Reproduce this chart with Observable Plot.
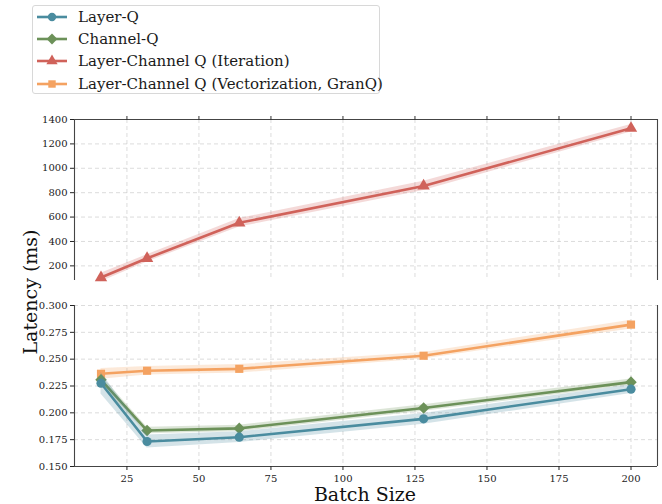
<!DOCTYPE html>
<html><head><meta charset="utf-8">
<script src="https://cdn.jsdelivr.net/npm/d3@7"></script>
<script src="https://cdn.jsdelivr.net/npm/@observablehq/plot@0.6"></script>
<style>
body{margin:0;background:#fff;}
#wrap{position:relative;width:662px;height:504px;overflow:hidden;font-family:"DejaVu Serif",serif;}
#legend{position:absolute;left:32px;top:5px;width:348px;height:89px;border:1px solid #d8d8d8;border-radius:3px;background:#fff;box-sizing:border-box;}
.lrow{position:absolute;left:3px;height:22px;display:flex;align-items:center;font-size:15px;color:#1a1a1a;white-space:nowrap;font-family:"DejaVu Serif",serif;}
.lrow svg{margin-right:10px;}
#top,#bot{position:absolute;left:0;}
#top{top:100px;}
#bot{top:290px;}
#ylab{position:absolute;left:30px;top:292px;transform:translate(-50%,-50%) rotate(-90deg);font-size:19px;color:#111;white-space:nowrap;}
#xlab{position:absolute;left:365px;top:494px;transform:translate(-50%,-50%);font-size:19px;color:#111;white-space:nowrap;}
</style></head>
<body><div id="wrap">
<div id="legend"></div>
<div id="top"></div>
<div id="bot"></div>
<div id="ylab">Latency (ms)</div>
<div id="xlab">Batch Size</div>
</div>
<script>
const batch = [16, 32, 64, 128, 200];
const seriesNames = ["Layer-Q", "Channel-Q", "Layer-Channel Q (Iteration)", "Layer-Channel Q (Vectorization, GranQ)"];
const layerQ = [0.2276, 0.1733, 0.1773, 0.1944, 0.2220];
const layerQStd = [0.010, 0.006, 0.005, 0.005, 0.004];
const channelQ = [0.2308, 0.1835, 0.1855, 0.2045, 0.2286];
const channelQStd = [0.004, 0.003, 0.003, 0.003, 0.003];
const iteration = [104, 262, 553, 855, 1328];
const iterationStd = [35, 30, 35, 38, 30];
const granQ = [0.2364, 0.2392, 0.2410, 0.2532, 0.2822];
const granQStd = [0.005, 0.004, 0.004, 0.003, 0.004];
const xTicks = [25, 50, 75, 100, 125, 150, 175, 200];
const yTicksTop = [200, 400, 600, 800, 1000, 1200, 1400];
const yTicksBot = [0.150, 0.175, 0.200, 0.225, 0.250, 0.275, 0.300];
const xDomain = [6.8, 209.2];
const yDomainTop = [80, 1400];
const yDomainBot = [0.150, 0.300];

const colors = ["#4a8c9f", "#6c9159", "#d0625a", "#f4a261"];
const symbols = ["circle", "diamond2", "triangle", "square"];

function rows(vals, std, s) {
  return batch.map((b, i) => ({x: b, y: vals[i], lo: vals[i] - std[i], hi: vals[i] + std[i], s}));
}
const topData = rows(iteration, iterationStd, seriesNames[2]);
const botSeries = [
  rows(granQ, granQStd, seriesNames[3]),
  rows(channelQ, channelQStd, seriesNames[1]),
  rows(layerQ, layerQStd, seriesNames[0])
];

function seriesMarks(data, idx) {
  return [
    Plot.areaY(data, {x: "x", y1: "lo", y2: "hi", fill: colors[idx], fillOpacity: 0.24}),
    Plot.line(data, {x: "x", y: "y", stroke: colors[idx], strokeWidth: 2.6}),
    Plot.dot(data, {x: "x", y: "y", fill: colors[idx], symbol: () => symbols[idx], r: symbols[idx] === "diamond2" ? 5.2 : 4.6, stroke: "none"})
  ];
}

const gridStyle = {stroke: "#c8c8c8", strokeOpacity: 0.9, strokeDasharray: "4,3", strokeWidth: 0.7};
const spine = {stroke: "#444", strokeWidth: 1.1};
const style = {fontFamily: "DejaVu Serif, serif", fontSize: "10px", color: "#222", background: "transparent"};

const topPlot = Plot.plot({
  width: 662, height: 190,
  marginLeft: 74, marginRight: 5, marginTop: 19, marginBottom: 10,
  style,
  x: {domain: xDomain},
  y: {domain: yDomainTop},
  marks: [
    Plot.gridX(xTicks, gridStyle),
    Plot.gridY(yTicksTop, gridStyle),
    ...seriesMarks(topData, 2),
    Plot.ruleY([yDomainTop[1]], spine),
    Plot.ruleX([xDomain[0]], spine),
    Plot.ruleX([xDomain[1]], spine),
    Plot.axisX(xTicks, {anchor: "top", tickFormat: () => "", tickSize: 4, label: null, stroke: "#333"}),
    Plot.axisY(yTicksTop, {anchor: "left", tickSize: 4, tickPadding: 3, label: null, tickFormat: d => String(d)})
  ]
});
document.getElementById("top").appendChild(topPlot);

const botPlot = Plot.plot({
  width: 662, height: 210,
  marginLeft: 74, marginRight: 5, marginTop: 15, marginBottom: 34,
  style,
  x: {domain: xDomain},
  y: {domain: yDomainBot},
  marks: [
    Plot.gridX(xTicks, gridStyle),
    Plot.gridY(yTicksBot, gridStyle),
    ...seriesMarks(botSeries[0], 3),
    ...seriesMarks(botSeries[1], 1),
    ...seriesMarks(botSeries[2], 0),
    Plot.ruleY([yDomainBot[0]], spine),
    Plot.ruleX([xDomain[0]], spine),
    Plot.ruleX([xDomain[1]], spine),
    Plot.axisX(xTicks, {anchor: "bottom", tickSize: 4, tickPadding: 4, label: null, tickFormat: d => String(d)}),
    Plot.axisY(yTicksBot, {anchor: "left", tickSize: 4, tickPadding: 3, label: null, tickFormat: d3.format(".3f")})
  ]
});
document.getElementById("bot").appendChild(botPlot);

// legend
const leg = document.getElementById("legend");
const symPath = {
  circle: d3.symbol(d3.symbolCircle, 55)(),
  diamond2: d3.symbol(d3.symbolDiamond2, 75)(),
  triangle: d3.symbol(d3.symbolTriangle, 55)(),
  square: d3.symbol(d3.symbolSquare, 55)()
};
seriesNames.forEach((name, i) => {
  const row = document.createElement("div");
  row.className = "lrow";
  row.style.top = (i * 22.2) + "px";
  row.innerHTML = `<svg width="32" height="14"><line x1="1" x2="31" y1="7" y2="7" stroke="${colors[i]}" stroke-width="2.6"/><path transform="translate(16,7)" d="${symPath[symbols[i]]}" fill="${colors[i]}"/></svg><span>${name}</span>`;
  leg.appendChild(row);
});
</script>
</body></html>
